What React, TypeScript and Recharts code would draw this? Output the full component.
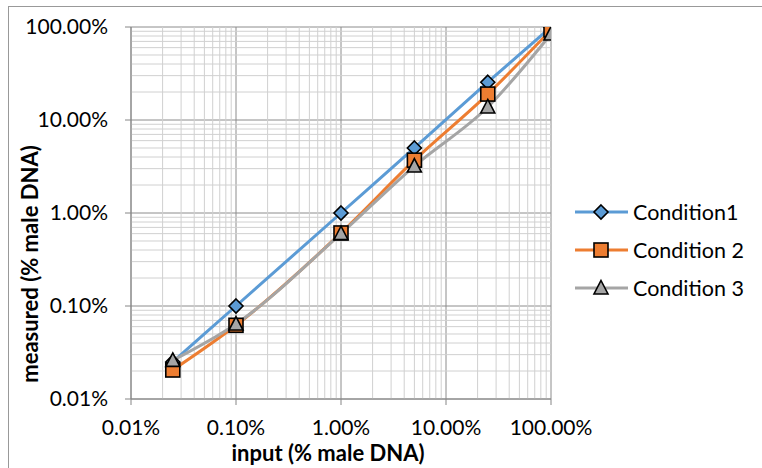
import React from 'react';
import { LineChart, Line, XAxis, YAxis, CartesianGrid, Legend, Label, ReferenceLine } from 'recharts';

// x values: input (% male DNA)
const inputPct = [0.025, 0.1, 1, 5, 25, 100];
// measured (% male DNA)
const condition1 = [0.025, 0.1, 1.0, 5.0, 25.5, 100];
const condition2 = [0.0205, 0.062, 0.61, 3.7, 19, 93];
const condition3 = [0.026, 0.064, 0.6, 3.2, 13.8, 84];
const seriesNames = ['Condition1', 'Condition 2', 'Condition 3'];
const seriesKeys = ['c1', 'c2', 'c3'];
const seriesColors = ['#5b9bd5', '#ed7d31', '#a5a5a5'];

const majorTicks = [0.01, 0.1, 1, 10, 100];
const decades = [0.01, 0.1, 1, 10];
const minorMultipliers = [2, 3, 4, 5, 6, 7, 8, 9];
const minorTicks = decades.flatMap((d) => minorMultipliers.map((m) => +(d * m).toPrecision(3)));

const data = inputPct.map((x, i) => ({ x, c1: condition1[i], c2: condition2[i], c3: condition3[i] }));

const FONT = 'Lato, "Open Sans", sans-serif';
const fmt = (v: number) => v.toFixed(2) + '%';

const Marker = ({ kind, cx, cy, color }: { kind: string; cx: number; cy: number; color: string }) => {
  if (kind === 'c1') {
    return <path d={`M${cx},${cy - 7}L${cx + 7},${cy}L${cx},${cy + 7}L${cx - 7},${cy}Z`} fill={color} stroke="#000" strokeWidth={1.6} />;
  }
  if (kind === 'c2') {
    return <rect x={cx - 7} y={cy - 7} width={14} height={14} fill={color} stroke="#000" strokeWidth={1.6} />;
  }
  return <path d={`M${cx},${cy - 7.5}L${cx + 7},${cy + 6}L${cx - 7},${cy + 6}Z`} fill={color} stroke="#000" strokeWidth={1.6} strokeLinejoin="miter" />;
};

const makeDot = (kind: string, color: string) => (props: any) => {
  const { cx, cy, index } = props;
  if (cx == null || cy == null) return <g key={`${kind}-${index}`} />;
  return <g key={`${kind}-${index}`}><Marker kind={kind} cx={cx} cy={cy} color={color} /></g>;
};

const LegendContent = () => (
  <svg width={190} height={120}>
    {seriesKeys.map((k, i) => {
      const y = 17 + i * 38;
      return (
        <g key={k}>
          <line x1={5} x2={58} y1={y} y2={y} stroke={seriesColors[i]} strokeWidth={3} />
          <Marker kind={k} cx={31} cy={y} color={seriesColors[i]} />
          <text x={63} y={y + 7.5} fontFamily={FONT} fontSize={21.5} fill="#000">{seriesNames[i]}</text>
        </g>
      );
    })}
  </svg>
);

const YTitle = (props: any) => {
  const vb = props.viewBox || { x: 0, y: 27, width: 131, height: 372 };
  const x = vb.x + 38;
  const y = vb.y + 237;
  return (
    <text x={x} y={y} transform={`rotate(-90, ${x}, ${y})`} textAnchor="middle" fontFamily={FONT} fontWeight="bold" fontSize={22} fill="#000">
      measured (% male DNA)
    </text>
  );
};

const XTitle = (props: any) => {
  const vb = props.viewBox || { x: 131, y: 399, width: 420, height: 69 };
  return (
    <text x={vb.x + 197} y={vb.y + 62} textAnchor="middle" fontFamily={FONT} fontWeight="bold" fontSize={22} fill="#000">
      input (% male DNA)
    </text>
  );
};

const tickStyle = { fill: '#000', fontFamily: FONT, fontSize: 21 };

export default function App() {
  return (
    <div style={{ position: 'relative', width: 762, height: 468, overflow: 'hidden', background: '#fff' }}>
      <style>{`body{margin:0;}`}</style>
      <div style={{ position: 'absolute', left: 8, top: 6, width: 900, height: 600, border: '1.5px solid #999', boxSizing: 'border-box' }} />
      <div style={{ position: 'absolute', left: 0, top: 0 }}>
        <LineChart width={762} height={468} data={data} margin={{ top: 27, right: 211, left: 0, bottom: 0 }}>
          {minorTicks.map((v) => (
            <ReferenceLine key={`vx-${v}`} x={v} stroke="#d0d0d0" strokeWidth={1} ifOverflow="hidden" />
          ))}
          {minorTicks.map((v) => (
            <ReferenceLine key={`hy-${v}`} y={v} stroke="#d0d0d0" strokeWidth={1} ifOverflow="hidden" />
          ))}
          <CartesianGrid stroke="#8c8c8c" strokeWidth={1} />
          <XAxis
            dataKey="x"
            type="number"
            scale="log"
            domain={[0.01, 100]}
            ticks={majorTicks}
            tickFormatter={fmt}
            allowDataOverflow
            height={69}
            stroke="#868686"
            tickSize={6}
            tickMargin={15}
            tick={tickStyle}
            interval={0}
          >
            <Label content={<XTitle />} />
          </XAxis>
          <YAxis
            type="number"
            scale="log"
            domain={[0.01, 100]}
            ticks={majorTicks}
            tickFormatter={fmt}
            allowDataOverflow
            width={131}
            stroke="#868686"
            tickSize={6}
            tickMargin={17}
            tick={tickStyle}
            interval={0}
          >
            <Label content={<YTitle />} />
          </YAxis>
          {seriesKeys.map((k, i) => (
            <Line
              key={k}
              dataKey={k}
              name={seriesNames[i]}
              type="monotone"
              stroke={seriesColors[i]}
              strokeWidth={3}
              dot={makeDot(k, seriesColors[i])}
              activeDot={false}
              isAnimationActive={false}
            />
          ))}
          <Legend
            layout="vertical"
            align="center"
            verticalAlign="middle"
            content={<LegendContent />}
            wrapperStyle={{ left: 570, top: 195, width: 190, height: 120 }}
          />
        </LineChart>
      </div>
    </div>
  );
}
